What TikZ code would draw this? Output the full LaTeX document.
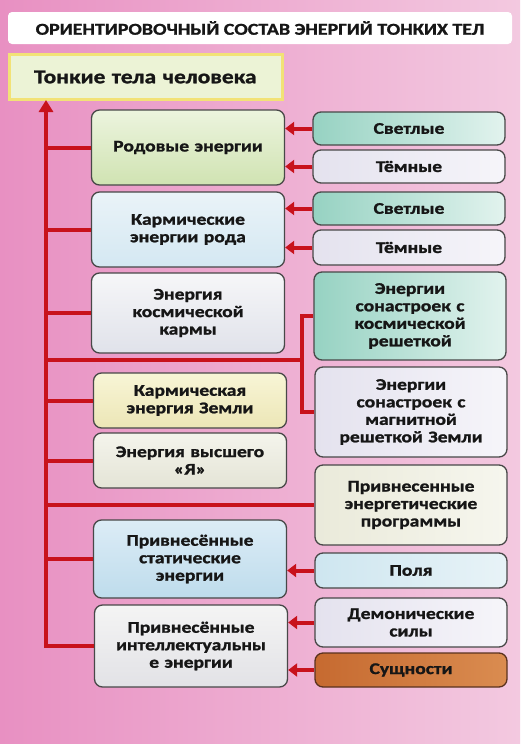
\documentclass[tikz,border=0pt]{standalone}
\usepackage{fontspec}
\setmainfont[FakeStretch=1.2, BoldFeatures={FakeBold=1.3}]{Carlito}
\usetikzlibrary{arrows.meta}
\definecolor{bgL}{HTML}{E890C2}
\definecolor{bgR}{HTML}{F3C9E0}
\definecolor{redc}{HTML}{C8121C}
\definecolor{bordc}{HTML}{484848}
\definecolor{txtc}{HTML}{161616}
\definecolor{tealL}{RGB}{150,210,194}
\definecolor{tealR}{RGB}{226,243,238}
\tikzset{
  box/.style={draw=bordc, line width=1.3pt, rounded corners=8pt, align=center,
    text=txtc, inner ysep=2pt, font=\bfseries\fontsize{16.3}{17.5}\selectfont},
  lbox/.style={box, text width=182pt, inner xsep=5.5pt},
  rbox/.style={box, text width=181pt, inner xsep=5.5pt},
  teal/.style={left color=tealL, right color=tealR},
  lav/.style={left color={rgb,255:red,228;green,226;blue,238}, right color={rgb,255:red,246;green,245;blue,250}},
  redline/.style={draw=redc, line width=4pt},
  feed/.style={redline, -{Triangle[width=13pt,length=9pt]}},
  mainline/.style={redline, line join=miter, -{Triangle[width=14pt,length=12pt]}},
}
\begin{document}
\begin{tikzpicture}[x=1pt,y=-1pt]
\shade[left color=bgL, right color=bgR] (0,0) rectangle (520,744);
\useasboundingbox (0,0) rectangle (520,744);

% title
\node[fill=white, rounded corners=4pt, minimum width=504pt, minimum height=32pt, inner sep=0pt,
  text=txtc, font=\bfseries\fontsize{16.6}{18}\selectfont] (title) at (260,28)
  {ОРИЕНТИРОВОЧНЫЙ СОСТАВ ЭНЕРГИЙ ТОНКИХ ТЕЛ};

% top box
\node[draw={rgb,255:red,242;green,226;blue,118}, line width=3pt, fill={rgb,255:red,236;green,243;blue,214},
  minimum width=273pt, minimum height=45pt, text width=249pt, inner xsep=12pt, align=left, text=txtc,
  font=\bfseries\fontsize{19.5}{22}\selectfont] (T) at (145.5,77) {\hspace*{13pt}Тонкие тела человека};

% left column
\node[lbox, top color={rgb,255:red,236;green,244;blue,222}, bottom color={rgb,255:red,208;green,227;blue,178}, minimum height=75pt] (L1) at (188,147.5) {Родовые энергии};
\node[lbox, top color={rgb,255:red,234;green,243;blue,248}, bottom color={rgb,255:red,212;green,232;blue,242}, minimum height=75pt] (L2) at (188,229.5) {Кармические\\энергии рода};
\node[lbox, top color={rgb,255:red,246;green,246;blue,248}, bottom color={rgb,255:red,224;green,226;blue,234}, minimum height=80pt] (L3) at (188,313) {Энергия\\космической\\кармы};
\node[lbox, top color={rgb,255:red,248;green,245;blue,214}, bottom color={rgb,255:red,236;green,230;blue,182}, minimum height=55pt] (L4) at (190,400.5) {Кармическая\\энергия Земли};
\node[lbox, top color={rgb,255:red,244;green,244;blue,236}, bottom color={rgb,255:red,228;green,228;blue,214}, minimum height=55pt] (L5) at (190,460.5) {Энергия высшего\\«Я»};
\node[lbox, top color={rgb,255:red,220;green,236;blue,246}, bottom color={rgb,255:red,190;green,220;blue,236}, minimum height=78pt] (L6) at (190,559) {Привнесённые\\статические\\энергии};
\node[lbox, top color={rgb,255:red,244;green,244;blue,244}, bottom color={rgb,255:red,226;green,226;blue,230}, minimum height=82pt] (L7) at (191,646) {Привнесённые\\интеллектуальны\\е энергии};

% right column
\node[rbox, teal, minimum height=33pt] (R1) at (409,128.5) {Светлые};
\node[rbox, lav, minimum height=33pt] (R2) at (409,166.5) {Тёмные};
\node[rbox, teal, minimum height=33pt] (R3) at (409,208.5) {Светлые};
\node[rbox, lav, minimum height=35pt] (R4) at (409,247.5) {Тёмные};
\node[rbox, teal, minimum height=88pt] (R5) at (410,316) {Энергии\\сонастроек с\\космической\\решеткой};
\node[rbox, lav, minimum height=90pt] (R6) at (411,412) {Энергии\\сонастроек с\\магнитной\\решеткой Земли};
\node[rbox, left color={rgb,255:red,234;green,234;blue,218}, right color={rgb,255:red,246;green,246;blue,238}, minimum height=80pt] (R7) at (411,505) {Привнесенные\\энергетические\\программы};
\node[rbox, left color={rgb,255:red,206;green,230;blue,240}, right color={rgb,255:red,232;green,243;blue,247}, minimum height=35pt] (R8) at (411,570.5) {Поля};
\node[rbox, lav, minimum height=49pt] (R9) at (411,622.5) {Демонические\\силы};
\node[rbox, draw={rgb,255:red,90;green,50;blue,30}, left color={rgb,255:red,198;green,106;blue,48}, right color={rgb,255:red,218;green,140;blue,80}, minimum height=34pt] (R10) at (411,670) {Сущности};

% main trunk
\coordinate (vt) at (46,100);
\coordinate (j) at (302,360);
\draw[mainline] (L7.west) -| (vt);
\foreach \n in {L1,L2,L3,L4,L5,L6} \draw[redline] (\n.west) -- (\n.west -| vt);
\draw[redline] (R7.west) -- (R7.west -| vt);
\draw[redline] (j) -- (j -| vt);
\draw[redline, line join=miter] (R5.west) -- (R5.west -| j) -- (R6.west -| j) -- (R6.west);

% feeding arrows
\draw[feed] (R1.west) -- (R1.west -| L1.east);
\draw[feed] (R2.west) -- (R2.west -| L1.east);
\draw[feed] (R3.west) -- (R3.west -| L2.east);
\draw[feed] (R4.west) -- (R4.west -| L2.east);
\draw[feed] (R8.west) -- (R8.west -| L6.east);
\draw[feed] (R9.west) -- (R9.west -| L7.east);
\draw[feed] (R10.west) -- (R10.west -| L7.east);
\end{tikzpicture}
\end{document}
